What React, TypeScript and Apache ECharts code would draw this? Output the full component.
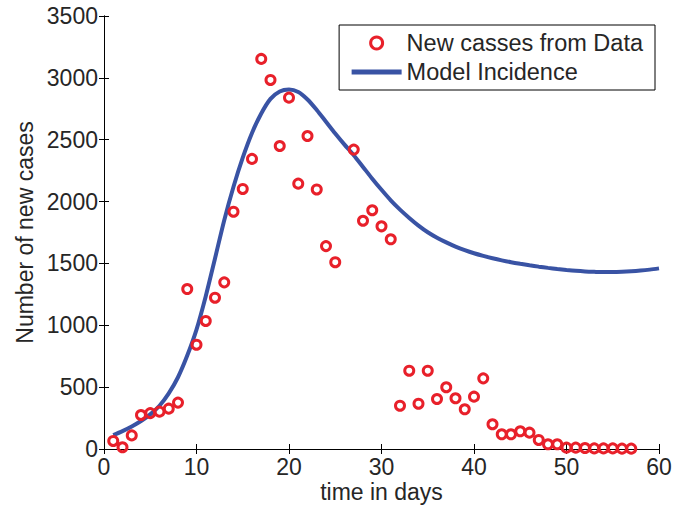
import React, { useEffect, useRef } from "react";
import * as echarts from "echarts";

const dataDays = [1, 2, 3, 4, 5, 6, 7, 8, 9, 10, 11, 12, 13, 14, 15, 16, 17, 18, 19, 20, 21, 22, 23, 24, 25, 27, 28, 29, 30, 31, 32, 33, 34, 35, 36, 37, 38, 39, 40, 41, 42, 43, 44, 45, 46, 47, 48, 49, 50, 51, 52, 53, 54, 55, 56, 57];
const dataCases = [65, 14, 110, 275, 290, 302, 326, 375, 1293, 843, 1035, 1223, 1347, 1918, 2102, 2345, 3153, 2983, 2449, 2840, 2145, 2530, 2098, 1640, 1510, 2420, 1845, 1930, 1800, 1695, 350, 633, 366, 633, 404, 499, 410, 321, 423, 571, 200, 119, 119, 143, 132, 73, 38, 38, 11, 11, 8, 5, 5, 5, 3, 3];

const modelDays = [1, 2, 3, 4, 5, 6, 7, 8, 9, 10, 11, 12, 13, 14, 15, 16, 17, 18, 19, 20, 21, 22, 23, 24, 25, 26, 27, 28, 29, 30, 31, 32, 33, 34, 35, 36, 37, 38, 39, 40, 41, 42, 43, 44, 45, 46, 47, 48, 49, 50, 51, 52, 53, 54, 55, 56, 57, 58, 59, 60];
const modelIncidence = [113, 145, 182, 226, 280, 350, 450, 580, 755, 965, 1235, 1540, 1850, 2120, 2355, 2555, 2712, 2830, 2890, 2905, 2885, 2825, 2740, 2645, 2550, 2460, 2375, 2280, 2185, 2095, 2010, 1935, 1868, 1806, 1752, 1708, 1670, 1636, 1607, 1582, 1561, 1542, 1525, 1510, 1497, 1485, 1474, 1464, 1455, 1447, 1440, 1435, 1432, 1430, 1430, 1432, 1436, 1442, 1450, 1460];

const xTicks = { min: 0, max: 60, interval: 10 };
const yTicks = { min: 0, max: 3500, interval: 500 };

const FONT = "'Liberation Sans', Arial, Helvetica, sans-serif";
const TEXT = "#262626";
const RED = "#e8202a";
const BLUE = "#3953a4";

export default function App() {
  const ref = useRef<HTMLDivElement>(null);
  useEffect(() => {
    if (!ref.current) return;
    const chart = echarts.init(ref.current, undefined, { renderer: "svg" });
    const axisLine = { show: true, lineStyle: { color: "#000", width: 1 } };
    const tick = { show: true, inside: true, length: 5, lineStyle: { color: "#000", width: 1 } };
    chart.setOption({
      animation: false,
      backgroundColor: "#fff",
      grid: { left: 104, right: 26, top: 16, bottom: 56, containLabel: false, outerBoundsMode: "none" },
      legend: {
        orient: "vertical",
        right: 30,
        top: 25,
        borderColor: "#000",
        borderWidth: 1,
        borderRadius: 0,
        padding: [6, 12, 6, 10],
        itemWidth: 50,
        itemHeight: 12,
        itemGap: 5,
        textStyle: { fontSize: 23.5, fontFamily: FONT, color: TEXT },
        data: [
          {
            name: "New casses from Data",
            icon: "circle",
            itemStyle: { color: "rgba(0,0,0,0)", borderColor: RED, borderWidth: 3 },
          },
          {
            name: "Model Incidence",
            itemStyle: { color: "rgba(0,0,0,0)", borderWidth: 0, opacity: 0 },
            lineStyle: { color: BLUE, width: 5 },
          },
        ],
      },
      xAxis: [
        {
          type: "value",
          ...xTicks,
          position: "bottom",
          name: "time in days",
          nameLocation: "middle",
          nameMoveOverlap: false,
          nameGap: 31,
          nameTextStyle: { fontSize: 23, fontFamily: FONT, color: TEXT, lineHeight: 23 },
          axisLine,
          axisTick: tick,
          splitLine: { show: false },
          axisLabel: { fontSize: 23, fontFamily: FONT, color: TEXT, margin: 6 },
        },
        {
          type: "value",
          ...xTicks,
          position: "top",
          axisLine,
          axisTick: tick,
          splitLine: { show: false },
          axisLabel: { show: false },
        },
      ],
      yAxis: [
        {
          type: "value",
          ...yTicks,
          position: "left",
          name: "Number of new cases",
          nameLocation: "middle",
          nameMoveOverlap: false,
          nameGap: 68,
          nameTextStyle: { fontSize: 23, fontFamily: FONT, color: TEXT },
          axisLine,
          axisTick: tick,
          splitLine: { show: false },
          axisLabel: {
            fontSize: 23,
            fontFamily: FONT,
            color: TEXT,
            margin: 6,
            formatter: (v: number) => String(v),
          },
        },
        {
          type: "value",
          ...yTicks,
          position: "right",
          axisLine,
          axisTick: tick,
          splitLine: { show: false },
          axisLabel: { show: false },
        },
      ],
      series: [
        {
          name: "New casses from Data",
          type: "scatter",
          symbol: "circle",
          symbolSize: 9,
          itemStyle: { color: "rgba(0,0,0,0)", borderColor: RED, borderWidth: 3, opacity: 1 },
          data: dataDays.map((d, i) => [d, dataCases[i]]),
          z: 3,
        },
        {
          name: "Model Incidence",
          type: "line",
          symbol: "none",
          smooth: 0.3,
          lineStyle: { color: BLUE, width: 4 },
          itemStyle: { color: BLUE },
          data: modelDays.map((d, i) => [d, modelIncidence[i]]),
          z: 2,
        },
      ],
    });
    return () => chart.dispose();
  }, []);
  return <div ref={ref} style={{ width: 685, height: 505, position: "absolute", left: 0, top: 0 }} />;
}
